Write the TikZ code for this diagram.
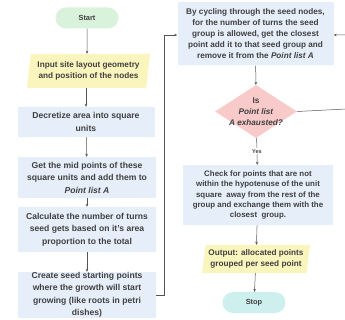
\documentclass[tikz,border=0pt]{standalone}
\usepackage{fontspec}
\setmainfont{Liberation Sans}
\usetikzlibrary{shapes.geometric,shapes.misc,arrows.meta}
\definecolor{startgreen}{HTML}{D8F2DC}
\definecolor{stopteal}{HTML}{CDEFEE}
\definecolor{ioyellow}{HTML}{FAF5BC}
\definecolor{procblue}{HTML}{E6EEF9}
\definecolor{decpink}{HTML}{F8CACA}
\definecolor{inkgray}{HTML}{404040}
\definecolor{linegray}{HTML}{555555}
\hyphenpenalty=10000
\begin{document}
\begin{tikzpicture}
[   x=1pt,y=-1pt,
    font=\fontsize{8.2}{11}\selectfont\bfseries,
    text=inkgray,
    leftfont/.style={font=\fontsize{8.6}{12.5}\selectfont\bfseries},
    pill/.style={fill=#1,rounded rectangle,minimum width=63pt,minimum height=21pt,inner sep=0pt,
                 font=\fontsize{7.4}{9}\selectfont\bfseries},
    procbox/.style={fill=procblue,minimum width=#1,align=center,inner xsep=3pt,inner ysep=0pt},
    iobox/.style={fill=ioyellow,trapezium,trapezium left angle=80,trapezium right angle=100,
                  trapezium stretches=true,minimum width=#1,align=center,inner xsep=0pt,inner ysep=0pt},
    flow/.style={draw=linegray,line width=0.5pt,-{Stealth[length=3pt,width=2.6pt]}},
]
    \useasboundingbox (0,0) rectangle (345,320);

    % left column
    \node[pill=startgreen] (start) at (87,18) {Start};
    \node[iobox=123pt,minimum height=34pt] (input) at (88.5,71)
        {Input site layout geometry\\ and position of the nodes};
    \node[procbox=137pt,minimum height=30pt,leftfont] (discretize) at (86,122)
        {Decretize area into square\\ units};
    \node[procbox=138pt,minimum height=41pt,leftfont] (midpts) at (87,177.5)
        {Get the mid points of these\\ square units and add them to\\ \textit{Point list A}};
    \node[procbox=138pt,minimum height=45pt,leftfont] (turns) at (87,229.5)
        {Calculate the number of turns\\ seed gets based on it's area\\ proportion to the total};
    \node[procbox=138pt,minimum height=46pt,leftfont] (seeds) at (87,295)
        {Create seed starting points\\ where the growth will start\\ growing (like roots in petri\\ dishes)};

    % right column
    \node[procbox=156pt,minimum height=63pt] (cycle) at (255.5,34)
        {By cycling through the seed nodes,\\ for the number of turns the seed\\ group is allowed, get the closest\\ point add it to that seed group and\\ remove it from the \textit{Point list A}};
    \node[diamond,fill=decpink,aspect=1.55,inner sep=-6pt,align=center,minimum width=82pt,minimum height=53pt] (exhausted) at (256,111.5)
        {Is\\ \textit{Point list}\\ \textit{A exhausted?}};
    \node[procbox=150pt,minimum height=60pt,font=\fontsize{7.9}{10.3}\selectfont\bfseries] (check) at (258,195)
        {Check for points that are not\\ within the hypotenuse of the unit\\ square \ away from the rest of the\\ group and exchange them with the\\ closest \ group.};
    \node[iobox=108pt,minimum height=28pt] (output) at (256,259)
        {Output: allocated points\\ grouped per seed point};
    \node[pill=stopteal] (stop) at (254,302.5) {Stop};

    \coordinate (loopdown) at (164,295);
    \coordinate (loopup) at (164,35);
    \coordinate (noright) at (346,109);
    \coordinate (noup) at (346,35);

    \draw[flow] (start) -- (start |- input.north);
    \draw[flow] (input.south -| discretize) -- (discretize);
    \draw[flow] (discretize) -- (midpts);
    \draw[flow] (midpts) -- (turns);
    \draw[flow] (turns) -- (seeds);
    \draw[flow] (seeds.east) -- (loopdown) -- (loopup) -- (cycle.west |- loopup);
    \draw[flow] (cycle) -- (exhausted);
    \draw[flow] (exhausted) -- node[pos=0.5,fill=white,inner sep=1pt,font=\fontsize{5.5}{6}\selectfont\bfseries] (yes) {Yes} (check);
    \draw[flow] (exhausted.east) -- (noright) -- (noup) -- (cycle.east |- noup);
    \draw[flow] (check) -- (output);
    \draw[flow] (output) -- (stop);
\end{tikzpicture}
\end{document}
